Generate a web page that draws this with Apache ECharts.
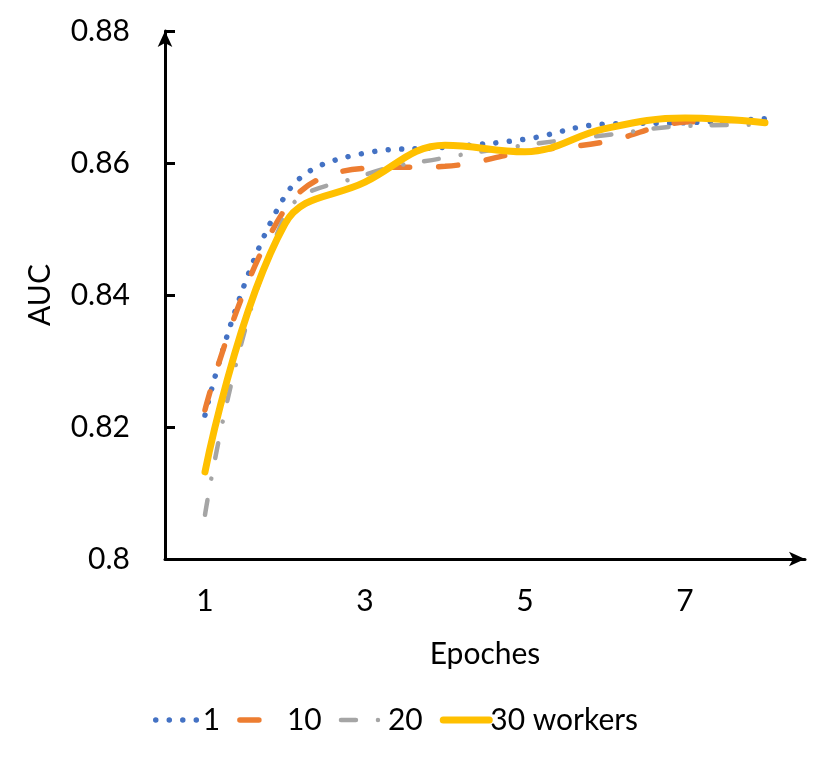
<!DOCTYPE html>
<html>
<head>
<meta charset="utf-8">
<script src="https://cdn.jsdelivr.net/npm/echarts@6/dist/echarts.min.js"></script>
<style>html,body{margin:0;padding:0;background:#fff}#c{width:822px;height:759px}</style>
</head>
<body>
<div id="c"></div>
<script>
const epochs = ['1','2','3','4','5','6','7','8'];
const w1  = [0.8218, 0.8550, 0.8615, 0.8624, 0.8636, 0.8659, 0.8661, 0.8667];
const w10 = [0.8226, 0.8530, 0.8592, 0.8595, 0.8617, 0.8632, 0.8662, 0.8665];
const w20 = [0.8067, 0.8520, 0.8582, 0.8608, 0.8627, 0.8642, 0.8656, 0.8658];
const w30 = [0.8132, 0.8508, 0.8571, 0.8627, 0.8617, 0.8652, 0.8668, 0.8661];
const seriesNames = ['1', '10', '20', '30 workers'];
const yTicks = { min: 0.8, max: 0.88, interval: 0.02 };

const FONT = 'Lato';
const chart = echarts.init(document.getElementById('c'));
const mk = (name, data, color, width, type) => ({
  name, type: 'line', data, smooth: 0.4, symbol: 'none',
  lineStyle: { color, width, type, cap: 'round' },
  itemStyle: { color }
});
chart.setOption({
  animation: false,
  textStyle: { fontFamily: FONT, color: '#000' },
  grid: { left: 165, right: 17, top: 31, bottom: 200 },
  legend: {
    left: 148, top: 700,
    itemWidth: 46, itemHeight: 16, itemGap: 17,
    itemStyle: { opacity: 0 },
    lineStyle: { width: 'inherit' },
    textStyle: { fontFamily: FONT, fontSize: 30, color: '#000', padding: [0, 0, 0, -4] },
    data: seriesNames.map(n => ({ name: n }))
  },
  xAxis: {
    type: 'category', data: epochs, boundaryGap: true,
    name: 'Epoches', nameLocation: 'middle', nameGap: 80,
    nameTextStyle: { fontFamily: FONT, fontSize: 30, color: '#000' },
    axisLine: { lineStyle: { color: '#000', width: 3 }, symbol: ['none', 'arrow'], symbolSize: [11, 16], symbolOffset: [0, 0] },
    axisTick: { inside: true, interval: 0, length: 10, lineStyle: { color: '#000', width: 3 } },
    axisLabel: { interval: 1, fontFamily: FONT, fontSize: 30, color: '#000', margin: 27 },
    splitLine: { show: false }
  },
  yAxis: {
    type: 'value', min: yTicks.min, max: yTicks.max, interval: yTicks.interval,
    name: 'AUC', nameLocation: 'middle', nameGap: 110, nameRotate: 90,
    nameTextStyle: { fontFamily: FONT, fontSize: 30, color: '#000' },
    axisLine: { show: true, lineStyle: { color: '#000', width: 3 }, symbol: ['none', 'arrow'], symbolSize: [11, 16], symbolOffset: [0, 0] },
    axisTick: { show: true, inside: true, length: 10, lineStyle: { color: '#000', width: 3 } },
    axisLabel: { fontFamily: FONT, fontSize: 30, color: '#000', margin: 35, formatter: v => String(+v.toFixed(2)) },
    splitLine: { show: false }
  },
  series: [
    mk('1', w1, '#4472C4', 5.5, [0.01, 13.5]),
    mk('10', w10, '#ED7D31', 5.5, [19, 29]),
    mk('20', w20, '#A5A5A5', 4.5, [15, 22, 0.01, 21]),
    mk('30 workers', w30, '#FFC000', 7, 'solid')
  ]
});
</script>
</body>
</html>
